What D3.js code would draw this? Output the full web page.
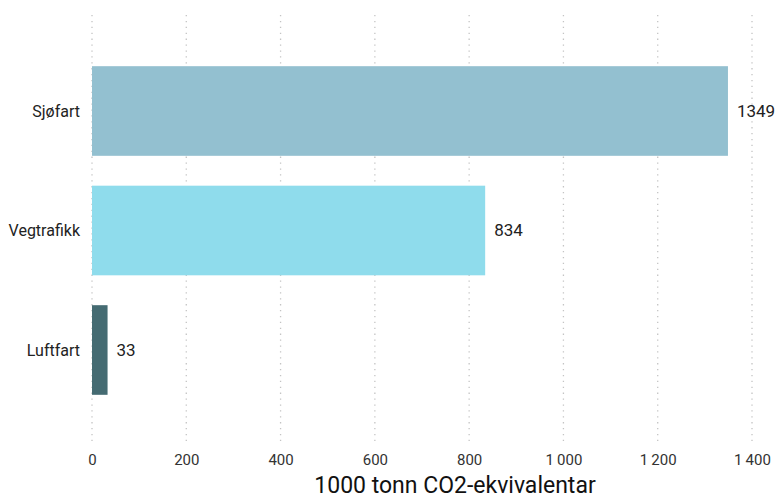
<!DOCTYPE html>
<html>
<head>
<meta charset="utf-8">
<script src="https://cdn.jsdelivr.net/npm/d3@7"></script>
<style>
  body { margin: 0; background: #fff; }
  svg { font-family: Roboto, "Noto Sans", sans-serif; }
</style>
</head>
<body>
<svg width="777" height="498"></svg>
<script>
// Data
var categories = ["Sjøfart", "Vegtrafikk", "Luftfart"];
var values = [1349, 834, 33];
var colors = ["#93c0d0", "#8fdcec", "#456b72"];
var xTicks = [0, 200, 400, 600, 800, 1000, 1200, 1400];
var axisTitle = "1000 tonn CO2-ekvivalentar";

var svg = d3.select("svg"),
  width = +svg.attr("width"),
  height = +svg.attr("height");

var nb = d3.formatLocale({ decimal: ",", thousands: "\u2009", grouping: [3], currency: ["", ""] });
var fmt = nb.format(",d");

var x = d3.scaleLinear().domain([0, 1400]).range([92, 752]);
var y = d3.scaleBand()
  .domain(categories)
  .range([51.25, 409.75])
  .paddingInner(0.25)
  .paddingOuter(0.125);

// dotted grid lines
svg.append("g")
  .selectAll("line")
  .data(xTicks)
  .enter()
  .append("line")
  .attr("x1", function (d) { return x(d); })
  .attr("x2", function (d) { return x(d); })
  .attr("y1", 15)
  .attr("y2", 445)
  .attr("stroke", "#c4c4c4")
  .attr("stroke-width", 1.3)
  .attr("stroke-dasharray", "1.3,4.6");

// bars
svg.append("g")
  .selectAll("rect")
  .data(categories)
  .enter()
  .append("rect")
  .attr("x", x(0))
  .attr("y", function (d) { return y(d); })
  .attr("width", function (d, i) { return x(values[i]) - x(0); })
  .attr("height", y.bandwidth())
  .attr("fill", function (d, i) { return colors[i]; });

// value labels
svg.append("g")
  .selectAll("text")
  .data(categories)
  .enter()
  .append("text")
  .attr("x", function (d, i) { return x(values[i]) + 9; })
  .attr("y", function (d) { return y(d) + y.bandwidth() / 2; })
  .attr("dy", "0.35em")
  .attr("font-size", 17)
  .attr("fill", "#222")
  .text(function (d, i) { return values[i]; });

// category labels
svg.append("g")
  .selectAll("text")
  .data(categories)
  .enter()
  .append("text")
  .attr("x", 80)
  .attr("y", function (d) { return y(d) + y.bandwidth() / 2; })
  .attr("dy", "0.35em")
  .attr("text-anchor", "end")
  .attr("font-size", 16)
  .attr("fill", "#222")
  .text(function (d) { return d; });

// x axis
var xAxis = d3.axisBottom(x).tickValues(xTicks).tickSize(0).tickPadding(0).tickFormat(fmt);
var ax = svg.append("g")
  .attr("transform", "translate(0,454)")
  .call(xAxis);
ax.select(".domain").remove();
ax.selectAll("text")
  .attr("font-size", 15)
  .attr("fill", "#333")
  .attr("font-family", "Roboto, sans-serif");

// axis title
svg.append("text")
  .attr("x", 455)
  .attr("y", 493)
  .attr("text-anchor", "middle")
  .attr("font-size", 23)
  .attr("fill", "#111")
  .text(axisTitle);
</script>
</body>
</html>
